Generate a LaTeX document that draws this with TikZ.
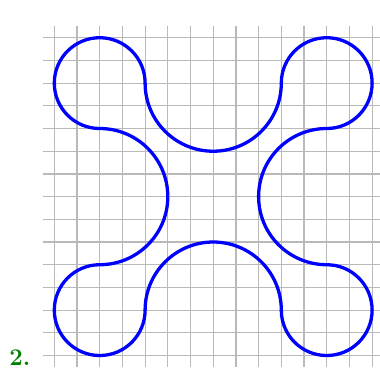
\documentclass[tikz,border=0pt]{standalone}
\usepackage{xcolor}
\begin{document}
\begin{tikzpicture}[x=.4cm,y=.4cm,font=\large\bfseries]
  \useasboundingbox (-2.392,-.639) rectangle (14.348,15.661);
  \foreach \i in {0,...,14} {
    \draw[gray!55,line width=.6pt] (\i,-.5) -- (\i,14.5);
    \draw[gray!55,line width=.6pt] (-.5,\i) -- (14.5,\i);
  }
  \draw[blue,line width=1.65pt] (2,10) arc (270:0:2) arc (180:360:3)
    arc (180:-90:2) arc (90:270:3) arc (90:-180:2) arc (0:180:3)
    arc (0:-270:2) arc (-90:90:3) -- cycle;
  \node[anchor=base west,inner sep=0pt,text=green!50!black] (num) at (-2,-.46) {2.};
\end{tikzpicture}
\end{document}
